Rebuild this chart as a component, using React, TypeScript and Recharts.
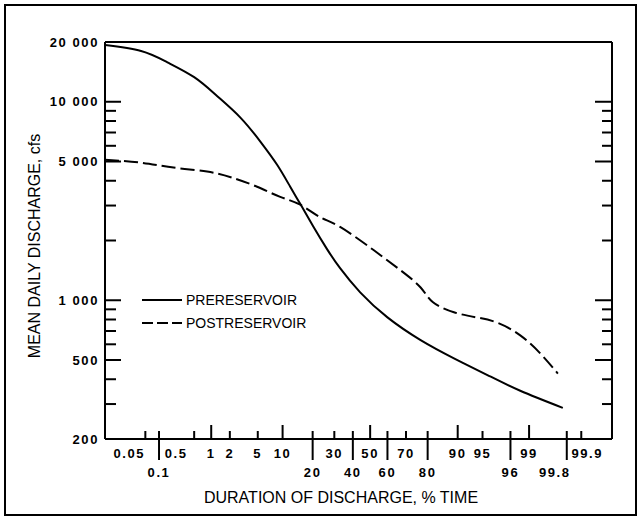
import { Legend, Line, LineChart, XAxis, YAxis } from "recharts";

const FONT = "'Liberation Sans', Arial, Helvetica, sans-serif";

// % of time a discharge is equalled or exceeded, and the discharge in cfs
const preDuration = [0.0052, 0.04, 0.15, 0.5, 1.25, 2.9, 5.4, 8.7, 12.1, 15.3, 20.2, 26.4, 33, 44.2, 60, 77, 89, 95.7, 98.6, 99.76];
const preCfs = [19300, 18000, 15800, 13300, 10700, 8300, 6300, 4800, 3730, 3060, 2360, 1810, 1450, 1096, 820, 630, 510, 420, 350, 287];

const postDuration = [0.0052, 0.04, 0.2, 0.85, 2.2, 4.9, 9.4, 15.3, 23, 33, 52, 67, 77, 82, 89, 94, 96.9, 98.6, 99.36, 99.7];
const postCfs = [5100, 4930, 4660, 4450, 4140, 3730, 3320, 3030, 2630, 2340, 1790, 1420, 1160, 980, 870, 820, 770, 665, 540, 427];

const seriesNames = ["PRERESERVOIR", "POSTRESERVOIR"];

const durationRange = [0.0052, 99.98];
const durationTicks = [0.05, 0.1, 0.5, 1, 2, 5, 10, 20, 30, 40, 50, 60, 70, 80, 90, 95, 98, 99, 99.8, 99.9];
const durationTickLabels = ["0.05", "0.1", "0.5", "1", "2", "5", "10", "20", "30", "40", "50", "60", "70", "80", "90", "95", "96", "99", "99.8", "99.9"];
const lowerRowLabels = ["0.1", "20", "40", "60", "80", "96", "99.8"];
const majorDurationTicks = [1, 10, 50, 90, 99];

const cfsRange = [200, 20000];
const cfsTicks = [20000, 10000, 9000, 8000, 7000, 6000, 5000, 4000, 3000, 2000, 1000, 900, 800, 700, 600, 500, 400, 300, 200];
const cfsLabelValues = [20000, 10000, 5000, 1000, 500, 200];
const cfsLabels = ["20 000", "10 000", "5 000", "1 000", "500", "200"];

// inverse normal CDF (Acklam) -> probability paper axis
function probit(p: number) {
  const a = [-39.69683028665376, 220.9460984245205, -275.9285104469687, 138.357751867269, -30.66479806614716, 2.506628277459239];
  const b = [-54.47609879822406, 161.5858368580409, -155.6989798598866, 66.80131188771972, -13.28068155288572];
  const c = [-0.007784894002430293, -0.3223964580411365, -2.400758277161838, -2.549732539343734, 4.374664141464968, 2.938163982698783];
  const d = [0.007784695709041462, 0.3224671290700398, 2.445134137142996, 3.754408661907416];
  const lo = 0.02425;
  if (p < lo) {
    const q = Math.sqrt(-2 * Math.log(p));
    return (((((c[0] * q + c[1]) * q + c[2]) * q + c[3]) * q + c[4]) * q + c[5]) / ((((d[0] * q + d[1]) * q + d[2]) * q + d[3]) * q + 1);
  }
  if (p <= 1 - lo) {
    const q = p - 0.5;
    const r = q * q;
    return ((((((a[0] * r + a[1]) * r + a[2]) * r + a[3]) * r + a[4]) * r + a[5]) * q) / (((((b[0] * r + b[1]) * r + b[2]) * r + b[3]) * r + b[4]) * r + 1);
  }
  const q = Math.sqrt(-2 * Math.log(1 - p));
  return -(((((c[0] * q + c[1]) * q + c[2]) * q + c[3]) * q + c[4]) * q + c[5]) / ((((d[0] * q + d[1]) * q + d[2]) * q + d[3]) * q + 1);
}
const toZ = (pct: number) => probit(pct / 100);

const preData = preDuration.map((pct, i) => ({ z: toZ(pct), cfs: preCfs[i] }));
const postData = postDuration.map((pct, i) => ({ z: toZ(pct), cfs: postCfs[i] }));
const zTicks = durationTicks.map(toZ);
const zDomain = durationRange.map(toZ);

const LABEL_NUDGE: Record<string, number> = { "0.05": -16, "0.5": -18, "99.8": -12, "99.9": 6 };
const tickText = { fontFamily: FONT, fontSize: 13, fontWeight: 700, letterSpacing: 1.6, fill: "#000" };

const BottomTick = (props: any) => {
  const { x, y, payload } = props;
  const i = zTicks.indexOf(payload.value);
  const label = durationTickLabels[i];
  const lower = lowerRowLabels.includes(label);
  const len = majorDurationTicks.includes(durationTicks[i]) ? 14 : 8;
  return (
    <g>
      <line x1={x} x2={x} y1={y} y2={y - len} stroke="#000" strokeWidth={2} />
      {lower && <line x1={x} x2={x} y1={y} y2={y + 21} stroke="#000" strokeWidth={2} />}
      <text x={x + (LABEL_NUDGE[label] || 0)} y={y + (lower ? 38 : 19)} textAnchor="middle" {...tickText}>
        {label}
      </text>
    </g>
  );
};

const TopTick = (props: any) => {
  const { x, y, payload } = props;
  const i = zTicks.indexOf(payload.value);
  const len = majorDurationTicks.includes(durationTicks[i]) ? 14 : 8;
  return <line x1={x} x2={x} y1={y} y2={y + len} stroke="#000" strokeWidth={2} />;
};

const LeftTick = (props: any) => {
  const { x, y, payload } = props;
  const li = cfsLabelValues.indexOf(payload.value);
  const len = li >= 0 ? 16 : 11;
  return (
    <g>
      <line x1={x} x2={x + len} y1={y} y2={y} stroke="#000" strokeWidth={2} />
      {li >= 0 && (
        <text x={x - 6} y={y} dy="0.36em" textAnchor="end" {...tickText}>
          {cfsLabels[li]}
        </text>
      )}
    </g>
  );
};

const RightTick = (props: any) => {
  const { x, y, payload } = props;
  const len = cfsLabelValues.includes(payload.value) ? 17 : 10;
  return <line x1={x} x2={x - len} y1={y} y2={y} stroke="#000" strokeWidth={2} />;
};

const xTitle = () => (
  <text x={341} y={503} textAnchor="middle" fontFamily={FONT} fontSize={16} fill="#000">
    DURATION OF DISCHARGE, % TIME
  </text>
);

const yTitle = () => (
  <text transform="translate(40,246) rotate(-90)" textAnchor="middle" fontFamily={FONT} fontSize={16} fill="#000">
    MEAN DAILY DISCHARGE, cfs
  </text>
);

const LegendBox = (props: any) => {
  const items = [...(props.payload || [])].sort(
    (p: any, q: any) => seriesNames.indexOf(p.value) - seriesNames.indexOf(q.value)
  );
  return (
    <div style={{ fontFamily: FONT, fontSize: 14, color: "#000" }}>
      {items.map((it: any) => (
        <div key={it.value} style={{ display: "flex", alignItems: "center", height: 23 }}>
          <svg width={44} height={10}>
            <line
              x1={0}
              x2={40}
              y1={5}
              y2={5}
              stroke="#000"
              strokeWidth={2}
              strokeDasharray={it.value === seriesNames[1] ? "11 4" : undefined}
            />
          </svg>
          <span>{it.value}</span>
        </div>
      ))}
    </div>
  );
};

const axisLine = { stroke: "#000", strokeWidth: 2 };

export default function App() {
  return (
    <div style={{ position: "fixed", left: 0, top: 0, width: 641, height: 520, background: "#fff" }}>
      <div
        style={{
          position: "absolute",
          left: 4,
          top: 4,
          width: 633,
          height: 512,
          border: "2px solid #000",
          boxSizing: "border-box",
        }}
      />
      <div style={{ position: "absolute", left: 0, top: 0 }}>
        <LineChart width={641} height={520} margin={{ top: 12, right: 0, bottom: 0, left: 0 }}>
          <XAxis
            xAxisId="bottom"
            type="number"
            dataKey="z"
            domain={zDomain}
            allowDataOverflow
            ticks={zTicks}
            interval={0}
            height={81}
            tickSize={0}
            tickMargin={0}
            tickLine={false}
            axisLine={axisLine}
            tick={BottomTick}
            label={xTitle}
          />
          <XAxis
            xAxisId="top"
            orientation="top"
            type="number"
            domain={zDomain}
            allowDataOverflow
            ticks={zTicks}
            interval={0}
            height={30}
            tickSize={0}
            tickMargin={0}
            tickLine={false}
            axisLine={axisLine}
            tick={TopTick}
          />
          <YAxis
            yAxisId="left"
            type="number"
            scale="log"
            domain={cfsRange}
            allowDataOverflow
            ticks={cfsTicks}
            interval={0}
            width={105}
            tickSize={0}
            tickMargin={0}
            tickLine={false}
            axisLine={axisLine}
            tick={LeftTick}
            label={yTitle}
          />
          <YAxis
            yAxisId="right"
            orientation="right"
            type="number"
            scale="log"
            domain={cfsRange}
            allowDataOverflow
            ticks={cfsTicks}
            interval={0}
            width={29}
            tickSize={0}
            tickMargin={0}
            tickLine={false}
            axisLine={axisLine}
            tick={RightTick}
          />
          <Legend
            content={LegendBox}
            layout="vertical"
            align="center"
            verticalAlign="middle"
            wrapperStyle={{ position: "absolute", left: 142, top: 288, width: 220 }}
          />
          <Line
            xAxisId="bottom"
            yAxisId="left"
            data={preData}
            dataKey="cfs"
            name={seriesNames[0]}
            type="natural"
            stroke="#000"
            strokeWidth={2}
            dot={false}
            isAnimationActive={false}
          />
          <Line
            xAxisId="bottom"
            yAxisId="left"
            data={postData}
            dataKey="cfs"
            name={seriesNames[1]}
            type="natural"
            stroke="#000"
            strokeWidth={2}
            strokeDasharray="14 5"
            dot={false}
            isAnimationActive={false}
          />
        </LineChart>
      </div>
    </div>
  );
}
